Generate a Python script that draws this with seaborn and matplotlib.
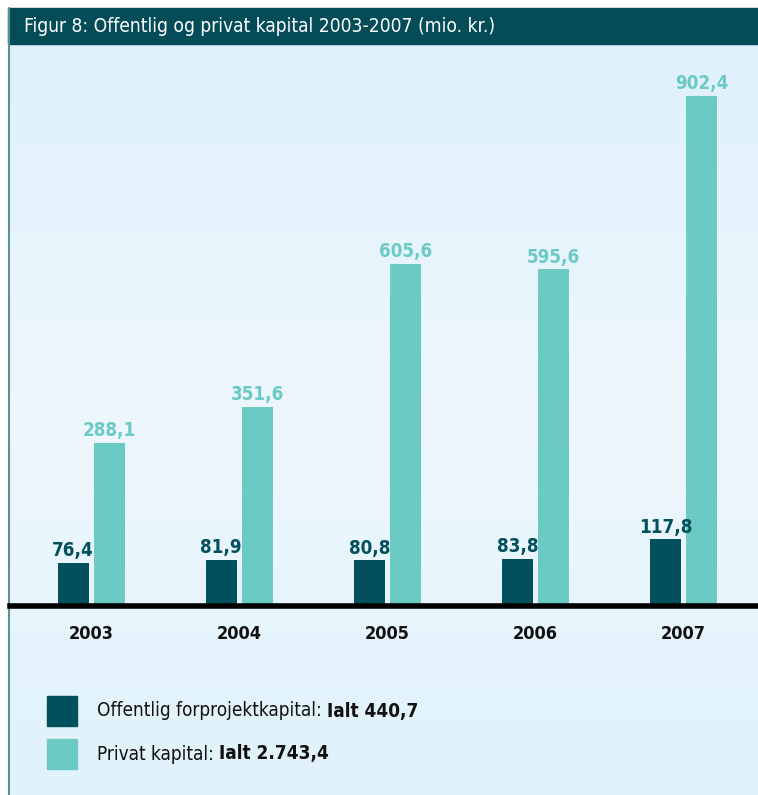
import numpy as np
import pandas as pd
import matplotlib
matplotlib.use("Agg")
import matplotlib.pyplot as plt
import seaborn as sns
from matplotlib.patches import Rectangle
from matplotlib.lines import Line2D
from matplotlib.colors import LinearSegmentedColormap

years = ["2003", "2004", "2005", "2006", "2007"]
offentlig = [76.4, 81.9, 80.8, 83.8, 117.8]
privat = [288.1, 351.6, 605.6, 595.6, 902.4]
series_names = ["Offentlig forprojektkapital", "Privat kapital"]
totals = ["440,7", "2.743,4"]
title = "Figur 8: Offentlig og privat kapital 2003-2007 (mio. kr.)"

DARK = "#02505c"
LIGHT = "#6ccac5"

sns.set_theme(style="white")
FONT = ["DejaVu Sans"]
plt.rcParams["font.family"] = FONT
plt.rcParams["font.stretch"] = "condensed"

W, H = 758, 795
fig = plt.figure(figsize=(W / 100, H / 100), dpi=100)
fig.patch.set_facecolor("white")

# background gradient
bg = fig.add_axes([10 / W, 0, 1 - 10 / W, (H - 44) / H], zorder=0)
grad = np.linspace(0, 1, 256).reshape(-1, 1)
cmap = LinearSegmentedColormap.from_list("bg", ["#e0f2fb", "#eef7fe", "#dff1fb"])
bg.imshow(grad, aspect="auto", cmap=cmap, origin="lower", extent=[0, 1, 0, 1])
bg.set_axis_off()

# title bar
fig.patches.append(Rectangle((8 / W, (H - 44) / H), 1 - 8 / W, 36 / H,
                             transform=fig.transFigure, color="#034c58", zorder=1))
fig.text(24 / W, (H - 27) / H, title, color="white", fontsize=13.8,
         va="center", ha="left", zorder=2)
# left border
fig.add_artist(Line2D([9 / W, 9 / W], [0, (H - 8) / H], transform=fig.transFigure,
                      color="#5d8f98", lw=1.5, zorder=2))

df = pd.DataFrame({
    "year": years * 2,
    "value": offentlig + privat,
    "serie": [series_names[0]] * len(years) + [series_names[1]] * len(years),
})

base_y = 606
ax_bottom = (H - base_y) / H
ax_top_px = 60
ax = fig.add_axes([10 / W, ax_bottom, 1 - 10 / W, (base_y - ax_top_px) / H], zorder=3)
ax.patch.set_alpha(0)
sns.barplot(data=df, x="year", y="value", hue="serie", palette=[DARK, LIGHT],
            width=0.486, gap=0.139, ax=ax, legend=False, saturation=1,
            linewidth=0, edgecolor="none")

ax.set_ylim(0, (base_y - ax_top_px) / 0.5652)
ax.set_xlim(-0.548, 4.502)
for s in ["left", "right", "top"]:
    ax.spines[s].set_visible(False)
ax.spines["bottom"].set_linewidth(4)
ax.spines["bottom"].set_color("black")
ax.set_yticks([])
ax.set_xlabel("")
ax.set_ylabel("")
ax.tick_params(axis="x", length=0, pad=14, labelsize=13, labelcolor="#111111")
for t in ax.get_xticklabels():
    t.set_fontweight("bold")

for cont, vals, col in zip(ax.containers, [offentlig, privat], [DARK, LIGHT]):
    labels = [f"{v:.1f}".replace(".", ",") for v in vals]
    ax.bar_label(cont, labels=labels, padding=2, color=col, fontsize=13.5,
                 fontweight="bold")

# legend
for i, (name, tot, col) in enumerate(zip(series_names, totals, [DARK, LIGHT])):
    yc = 711 + i * 43
    fig.patches.append(Rectangle((47 / W, (H - yc - 15) / H), 30 / W, 30 / H,
                                 transform=fig.transFigure, color=col, zorder=4))
    t1 = fig.text(97 / W, (H - yc) / H, name + ": ", fontsize=13.6, va="center",
                  ha="left", color="#111111", zorder=4)
    fig.canvas.draw()
    bb = t1.get_window_extent()
    fig.text(bb.x1 / W, (H - yc) / H, "Ialt " + tot, fontsize=13.6, va="center",
             ha="left", color="#111111", fontweight="bold", zorder=4)

fig.savefig("out.png", dpi=100)
